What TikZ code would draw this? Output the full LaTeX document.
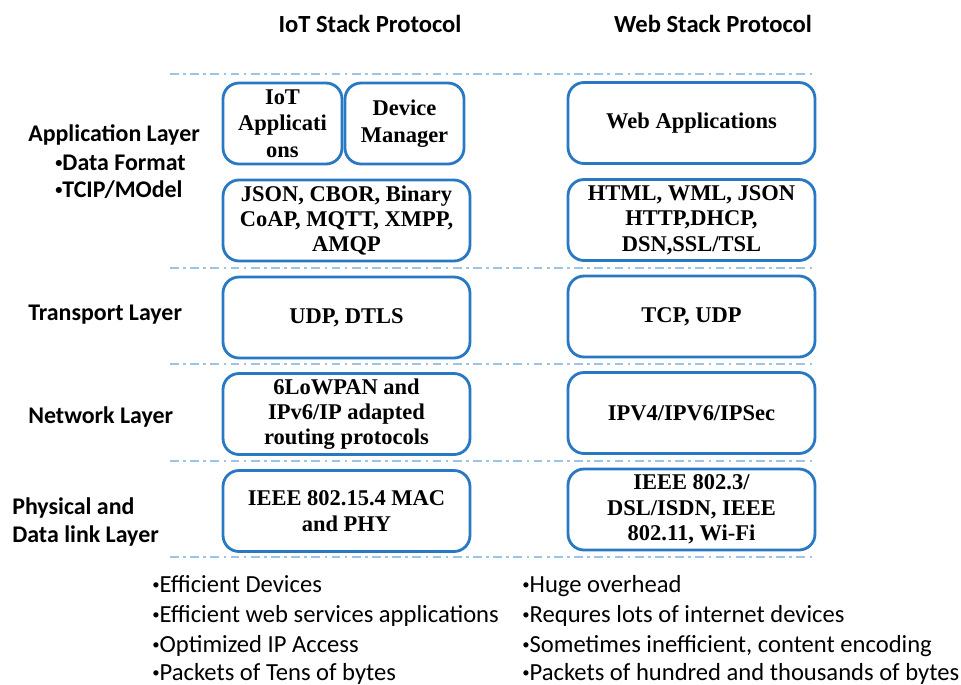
\documentclass[tikz,border=0pt]{standalone}
\usepackage{fontspec}
\setmainfont{Liberation Serif}
\newfontfamily\calib{Carlito}
\usepackage{tikz}
\usetikzlibrary{calc}
\definecolor{boxblue}{RGB}{40,120,195}
\definecolor{lineblue}{RGB}{157,195,230}
\newcommand{\dotmark}{\raisebox{0.12em}{\scalebox{0.6}{•}}}
\tikzstyle{stack}=[draw=boxblue, line width=1.6pt, rounded corners=0.32cm, minimum width=4.94cm, minimum height=1.62cm, align=center, inner sep=1pt, font=\fontsize{12.8}{14.4}\selectfont\bfseries]
\tikzstyle{halfstack}=[stack, minimum width=2.38cm, font=\fontsize{12.8}{15.2}\selectfont\bfseries]
\tikzstyle{sepline}=[lineblue, line width=1.1pt, dash pattern=on 5pt off 2.5pt on 1.5pt off 2.5pt]
\tikzstyle{lbl}=[font=\calib\fontsize{13.6}{16.4}\selectfont\bfseries, anchor=west, inner sep=0pt, align=left]
\tikzstyle{note}=[font=\calib\fontsize{14}{17}\selectfont, anchor=base west, inner sep=0pt]

\begin{document}
\begin{tikzpicture}[x=0.02cm,y=-0.02cm]
\useasboundingbox (0,0) rectangle (961,684);

                \node [lbl, anchor=center, font=\calib\fontsize{14}{16}\selectfont\bfseries] (iothead) at (370,24) {IoT Stack Protocol};
                \node [lbl, anchor=center, font=\calib\fontsize{14}{16}\selectfont\bfseries] (webhead) at (713,24) {Web Stack Protocol};

                \coordinate (L1) at (170,74);  \coordinate (R1) at (815,74);
                \coordinate (L2) at (170,268); \coordinate (R2) at (815,268);
                \coordinate (L3) at (170,364); \coordinate (R3) at (815,364);
                \coordinate (L4) at (170,461); \coordinate (R4) at (815,461);
                \coordinate (L5) at (170,557); \coordinate (R5) at (815,557);

                \draw [sepline] (L1) -- (R1);
                \draw [sepline] (L2) -- (R2);
                \draw [sepline] (L3) -- (R3);
                \draw [sepline] (L4) -- (R4);
                \draw [sepline] (L5) -- (R5);

                \node [halfstack] (iotapp) at (282.5,123.5) {IoT\\Applicati\\ons};
                \node [halfstack] (devman) at (404.5,123.5) {Device\\Manager};
                \node [stack] (iotfmt) at (346.5,220.5) {JSON, CBOR, Binary\\CoAP, MQTT, XMPP,\\AMQP};
                \node [stack] (iotudp) at (346.5,317.5) {UDP, DTLS};
                \node [stack] (iotnet) at (346.5,414) {6LoWPAN and\\IPv6/IP adapted\\routing protocols};
                \node [stack] (iotphy) at (346.5,511) {IEEE 802.15.4 MAC\\and PHY};

                \node [stack] (webapp) at (691.5,123) {Web Applications};
                \node [stack] (webfmt) at (691.5,220) {HTML, WML, JSON\\HTTP,DHCP,\\DSN,SSL/TSL};
                \node [stack] (webtcp) at (691.5,316.5) {TCP, UDP};
                \node [stack] (webnet) at (691.5,413) {IPV4/IPV6/IPSec};
                \node [stack] (webphy) at (691.5,509.5) {IEEE 802.3/\\DSL/ISDN, IEEE\\802.11, Wi-Fi};

                \node [lbl] (applbl) at (28,135) {Application Layer};
                \node [lbl] (fmtlbl) at (55,163) {\dotmark Data Format};
                \node [lbl] (tciplbl) at (55,190) {\dotmark TCIP/MOdel};
                \node [lbl] (translbl) at (28,315) {Transport Layer};
                \node [lbl] (netlbl) at (28,417) {Network Layer};
                \node [lbl] (phylbl) at (12,522) {Physical and\\Data link Layer};

                \node [note] (iotn1) at (152,592) {\dotmark Efficient Devices};
                \node [note] (iotn2) at (152,622) {\dotmark Efficient web services applications};
                \node [note] (iotn3) at (152,652) {\dotmark Optimized IP Access};
                \node [note] (iotn4) at (152,680) {\dotmark Packets of Tens of bytes};

                \node [note] (webn1) at (522,592) {\dotmark Huge overhead};
                \node [note] (webn2) at (522,622) {\dotmark Requres lots of internet devices};
                \node [note] (webn3) at (522,652) {\dotmark Sometimes inefficient, content encoding};
                \node [note] (webn4) at (522,680) {\dotmark Packets of hundred and thousands of bytes};

            \end{tikzpicture}
\end{document}
